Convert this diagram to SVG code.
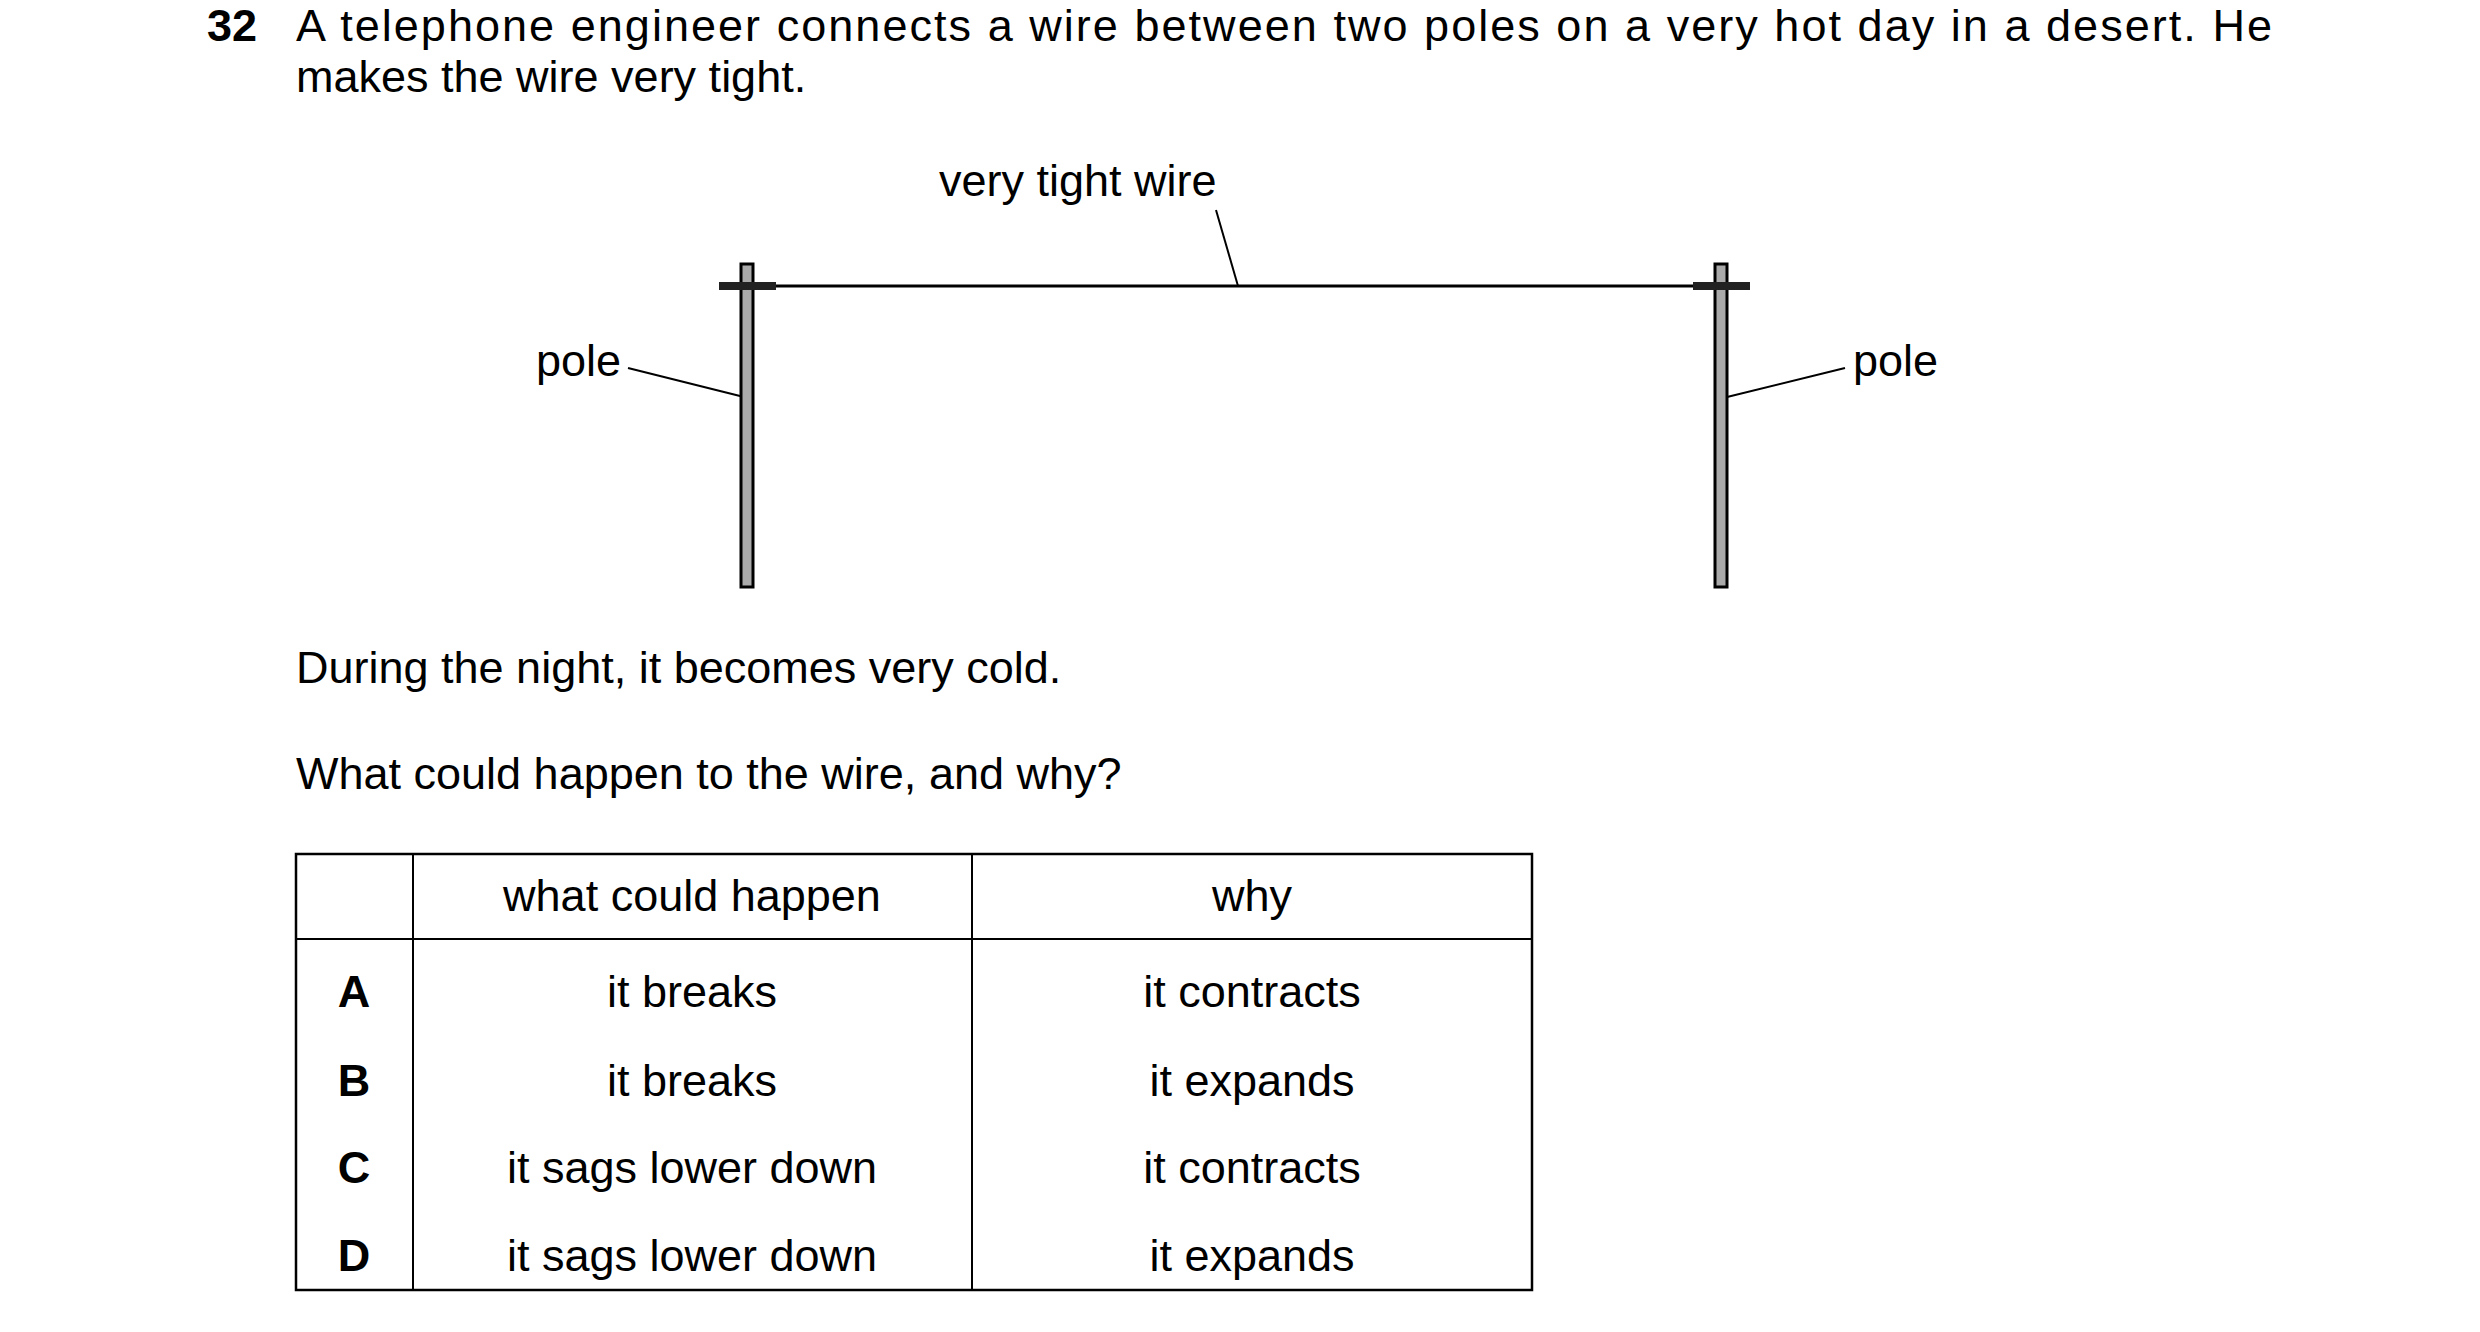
<svg xmlns="http://www.w3.org/2000/svg" width="2480" height="1332" viewBox="0 0 2480 1332">
<style>
text{font-family:"Liberation Sans",Arial,sans-serif;font-size:45px;fill:#000}
.b{font-weight:bold}
.c{text-anchor:middle}
.ln{stroke:#000;stroke-width:2;fill:none}
.pole{fill:#aaa;stroke:#000;stroke-width:3}
</style>
<rect width="2480" height="1332" fill="#fff"/>
<g id="question">
<text class="b" x="207" y="41">32</text>
<text x="296" y="41" textLength="1976" lengthAdjust="spacing">A telephone engineer connects a wire between two poles on a very hot day in a desert. He</text>
<text x="296" y="92">makes the wire very tight.</text>
</g>
<g id="connectors">
<line class="ln" x1="748" y1="286" x2="1722" y2="286" style="stroke-width:3"/>
<line class="ln" x1="1216" y1="210" x2="1238" y2="286"/>
<line class="ln" x1="628" y1="368" x2="748" y2="398"/>
<line class="ln" x1="1845" y1="368" x2="1723" y2="398"/>
</g>
<g id="pole-left">
<rect class="pole" x="741" y="264" width="12" height="323"/>
<rect x="719" y="282" width="57" height="8" fill="#222"/>
</g>
<g id="pole-right">
<rect class="pole" x="1715" y="264" width="12" height="323"/>
<rect x="1693" y="282" width="57" height="8" fill="#222"/>
</g>
<g id="labels">
<text x="939" y="196">very tight wire</text>
<text x="536" y="376">pole</text>
<text x="1853" y="376">pole</text>
</g>
<g id="text2">
<text x="296" y="683">During the night, it becomes very cold.</text>
<text x="296" y="789">What could happen to the wire, and why?</text>
</g>
<g id="table">
<rect x="296" y="854" width="1236" height="436" fill="none" stroke="#000" stroke-width="2.5"/>
<line class="ln" x1="296" y1="939" x2="1532" y2="939"/>
<line class="ln" x1="413" y1="854" x2="413" y2="1290"/>
<line class="ln" x1="972" y1="854" x2="972" y2="1290"/>
<text class="c" x="692" y="911">what could happen</text>
<text class="c" x="1252" y="911">why</text>
<text class="b c" x="354" y="1007">A</text>
<text class="b c" x="354" y="1096">B</text>
<text class="b c" x="354" y="1183">C</text>
<text class="b c" x="354" y="1271">D</text>
<text class="c" x="692" y="1007">it breaks</text>
<text class="c" x="692" y="1096">it breaks</text>
<text class="c" x="692" y="1183">it sags lower down</text>
<text class="c" x="692" y="1271">it sags lower down</text>
<text class="c" x="1252" y="1007">it contracts</text>
<text class="c" x="1252" y="1096">it expands</text>
<text class="c" x="1252" y="1183">it contracts</text>
<text class="c" x="1252" y="1271">it expands</text>
</g>
</svg>
